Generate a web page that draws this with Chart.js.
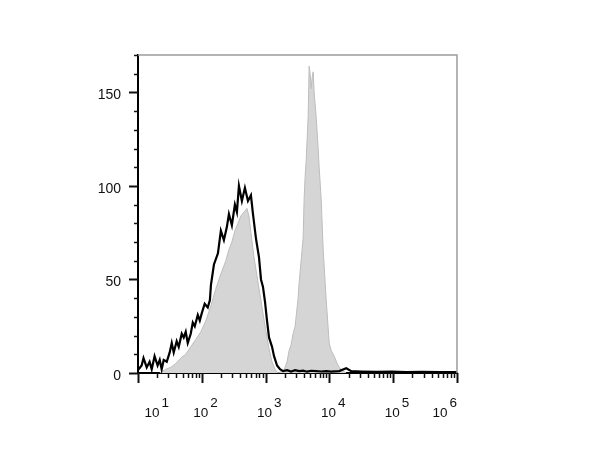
<!DOCTYPE html>
<html>
<head>
<meta charset="utf-8">
<script src="https://cdn.jsdelivr.net/npm/chart.js@4.4.0/dist/chart.umd.min.js"></script>
<style>
  html, body { margin: 0; padding: 0; background: #fff; }
</style>
</head>
<body>
<canvas id="chart" width="600" height="462"></canvas>
<script>
// black outline histogram (control)
const openChannel = [10, 11.4, 12.2, 13.7, 15.2, 16.4, 18.2, 20.3, 21.9, 23.5,
  25.3, 28.2, 31.4, 33.8, 36.3, 40.4, 43.5, 48.5, 52.1, 56,
  60.2, 67.1, 72.2, 77.6, 86.5, 93, 100, 111, 124, 134,
  139, 155, 179, 199, 222, 247, 266, 296, 330, 355,
  382, 425, 474, 529, 589, 634, 706, 787, 847, 910,
  979, 1052, 1131, 1261, 1356, 1511, 1683, 1878, 2169, 2508,
  2899, 3351, 3873, 4477, 5175, 6202, 7432, 8907, 10670, 14260,
  18370, 22030, 31620, 54450, 93750, 161400, 277600, 572800, 1000000];
const openCount = [1.6, 4, 8, 3, 6, 2, 9, 4, 7, 2,
  7, 6, 11, 16, 11, 17, 14, 21, 19, 22,
  16, 21, 27, 25, 31, 28, 32, 37, 35, 39,
  47, 58, 64, 76, 71, 78, 85, 79, 90, 86,
  100, 92, 99, 92, 95, 85, 72, 62, 50, 46,
  38, 28, 19, 14, 9, 4, 2, 1, 1.5, 0.8,
  1.5, 1, 1.3, 0.7, 1.2, 1, 0.8, 1, 0.7, 1,
  2.5, 1, 0.8, 0.6, 0.7, 0.5, 0.6, 0.5, 0.5];

// grey filled histogram (stained)
const filledChannel = [21.9, 27.2, 32.6, 39, 46.8, 56, 67.1, 80.5, 96.4, 116,
  139, 166, 199, 238, 266, 296, 330, 368, 410, 457,
  510, 548, 589, 657, 732, 816, 910, 1015, 1131, 1261,
  1406, 1567, 1947, 2169, 2334, 2508, 2697, 2899, 3006, 3231,
  3351, 3602, 3873, 4016, 4164, 4318, 4477, 4642, 4813, 4990,
  5175, 5365, 5563, 5768, 6202, 6668, 6913, 7432, 7990, 8590,
  8907, 9576, 9930, 10670, 11890, 13270, 14260, 16480, 18370];
const filledCount = [0, 2, 3, 5, 8, 10, 14, 18, 22, 28,
  36, 45, 53, 60, 66, 70, 76, 80, 84, 86,
  88, 84, 75, 62, 52, 42, 32, 22, 13, 6,
  2, 0, 1.6, 6, 12, 15, 21, 25, 30, 40,
  48, 60, 72, 93, 105, 113, 125, 137, 164, 160,
  152, 158, 161, 150, 137, 120, 110, 93, 66, 48,
  39, 24, 16, 12, 9, 5, 3, 1, 0];

const decadeExponents = [1, 2, 3, 4, 5, 6];
const yMax = 170;
const yStep = 10;
const yLabelEvery = 50;

const FONT = '"Liberation Sans", Arial, sans-serif';

const toPoints = (xs, ys) => xs.map((x, i) => ({ x, y: ys[i] }));

const axisMarks = {
  id: 'axisMarks',
  afterDraw(chart) {
    const { ctx, chartArea: a, scales: { x, y } } = chart;
    ctx.save();

    // grey frame on top and right
    ctx.strokeStyle = '#9c9c9c';
    ctx.lineWidth = 1.5;
    ctx.beginPath();
    ctx.moveTo(a.left, a.top);
    ctx.lineTo(a.right, a.top);
    ctx.lineTo(a.right, a.bottom);
    ctx.stroke();

    ctx.strokeStyle = '#111';
    // y tick marks
    for (let v = 0; v <= yMax; v += yStep) {
      const py = Math.round(y.getPixelForValue(v)) + 0.5;
      const major = v % yLabelEvery === 0;
      ctx.lineWidth = major ? 2 : 1.5;
      ctx.beginPath();
      ctx.moveTo(a.left - (major ? 9 : 4), py);
      ctx.lineTo(a.left, py);
      ctx.stroke();
    }

    // x tick marks (log decades with minor 2..9)
    decadeExponents.forEach(e => {
      for (let k = 1; k <= 9; k++) {
        const v = k * Math.pow(10, e);
        if (v > x.max * 1.0001) break;
        const px = Math.round(x.getPixelForValue(v)) + 0.5;
        ctx.lineWidth = k === 1 ? 2 : 1.5;
        ctx.beginPath();
        ctx.moveTo(px, a.bottom);
        ctx.lineTo(px, a.bottom + (k === 1 ? 10 : 5));
        ctx.stroke();
      }
    });

    // x labels: 10 with exponent
    ctx.fillStyle = '#111';
    decadeExponents.forEach((e, i) => {
      let px = x.getPixelForValue(Math.pow(10, e)) - 1;
      if (i === 0) px += 15;
      if (i === decadeExponents.length - 1) px -= 16;
      ctx.font = '13.5px ' + FONT;
      ctx.textAlign = 'center';
      ctx.textBaseline = 'alphabetic';
      ctx.fillText('10', px, a.bottom + 44);
      const w = ctx.measureText('10').width;
      ctx.textAlign = 'left';
      ctx.fillText(String(e), px + w / 2 + 2, a.bottom + 34);
    });

    ctx.restore();
  }
};

new Chart(document.getElementById('chart'), {
  type: 'line',
  data: {
    datasets: [
      {
        label: 'control',
        data: toPoints(openChannel, openCount),
        borderColor: '#000',
        borderWidth: 2.2,
        fill: false,
        pointRadius: 0,
        tension: 0
      },
      {
        label: 'stained',
        data: toPoints(filledChannel, filledCount),
        borderColor: '#bdbdbd',
        borderWidth: 1,
        backgroundColor: '#d5d5d5',
        fill: 'origin',
        pointRadius: 0,
        tension: 0
      }
    ]
  },
  plugins: [axisMarks],
  options: {
    responsive: false,
    animation: false,
    layout: { padding: { left: 0, right: 143, top: 55, bottom: 0 } },
    plugins: {
      legend: { display: false },
      tooltip: { enabled: false }
    },
    scales: {
      x: {
        type: 'logarithmic',
        min: 10,
        max: 1000000,
        grid: { display: false },
        border: { display: true, color: '#000', width: 2 },
        ticks: { display: false },
        afterFit: (scale) => { scale.height = 89; }
      },
      y: {
        min: 0,
        max: yMax,
        grid: { display: false },
        border: { display: true, color: '#000', width: 2 },
        ticks: {
          stepSize: yStep,
          autoSkip: false,
          padding: 9,
          labelOffset: 3,
          color: '#111',
          font: { family: FONT, size: 14 },
          callback: (v) => (v % yLabelEvery === 0 ? v : '')
        },
        afterFit: (scale) => { scale.width = 138; }
      }
    }
  }
});
</script>
</body>
</html>
